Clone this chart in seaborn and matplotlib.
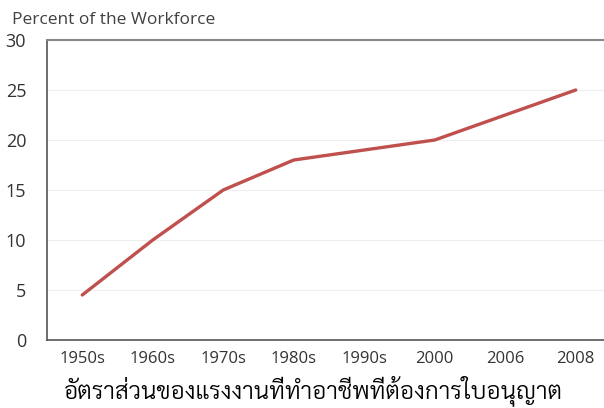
import os
import matplotlib
matplotlib.use("Agg")
import matplotlib.pyplot as plt
from matplotlib import font_manager as fm
import seaborn as sns
import pandas as pd
import numpy as np

# data
periods = ['1950s', '1960s', '1970s', '1980s', '1990s', '2000', '2006', '2008']
share = [4.5, 10, 15, 18, 19, 20, 22.5, 25]
title = 'Percent of the Workforce'
xlab = 'อัตราส่วนของแรงงานที่ทำอาชีพที่ต้องการใบอนุญาต'

sns.set_style("white")
plt.rcParams['font.family'] = ['Open Sans', 'DejaVu Sans']

# thai font: look for a light/regular looped face among the installed files
wanted = ['Sarabun-Light.ttf', 'Sarabun-Regular.ttf', 'NotoSansThai-Regular.ttf',
          'NotoSansThai[wdth,wght].ttf', 'IBMPlexSansThaiLooped-Regular.ttf',
          'IBMPlexSansThaiLooped-Light.ttf', 'Sarabun-ExtraLight.ttf',
          'Niramit-Regular.ttf', 'Niramit-Light.ttf']
files = {os.path.basename(f): f for f in fm.findSystemFonts()}
thai_font = None
for w in wanted:
    if w in files:
        thai_font = fm.FontProperties(fname=files[w], size=17.5)
        break
if thai_font is None:
    thai_font = fm.FontProperties(family=['Sarabun', 'DejaVu Sans'], size=17.5)

df = pd.DataFrame({'period': periods, 'share': share})

fig = plt.figure(figsize=(6.04, 4.08), dpi=100)
ax = fig.add_axes([47/604, 68/408, 564/604, 300/408])

sns.lineplot(data=df, x='period', y='share', sort=False, color='#C0504D',
             linewidth=2.4, ax=ax)

ax.set_xlim(-0.5, 7.5)
ax.set_ylim(0, 30)
ax.set_yticks(np.arange(0, 31, 5))
ax.yaxis.grid(True, color='#EEEEEE', linewidth=0.8)
ax.set_axisbelow(True)

ax.set_xticks(range(len(periods)))
ax.set_xticklabels(periods)
ax.set_xticks(np.arange(0.5, 7.5, 1), minor=True)
ax.tick_params(axis='x', which='major', length=0, pad=8, labelsize=12, colors='#333333')
ax.tick_params(axis='x', which='minor', direction='in', length=5, width=1, color='#555555')
ax.tick_params(axis='y', direction='in', length=5, width=1, color='#555555',
               labelsize=13, labelcolor='#333333', pad=15)

for s in ['left', 'bottom']:
    ax.spines[s].set_color('#555555')
    ax.spines[s].set_linewidth(1.2)
ax.spines['top'].set_color('#888888')
ax.spines['top'].set_linewidth(1.5)
ax.spines['right'].set_visible(False)

ax.set_xlabel('')
ax.set_ylabel('')

fig.text(313/604, 1 - 391/408, xlab, fontproperties=thai_font, color='black',
         ha='center', va='center')
fig.text(12/604, 1 - 20/408, title, fontsize=12.5, color='#404040', va='center')

fig.savefig('out.png', dpi=100)
